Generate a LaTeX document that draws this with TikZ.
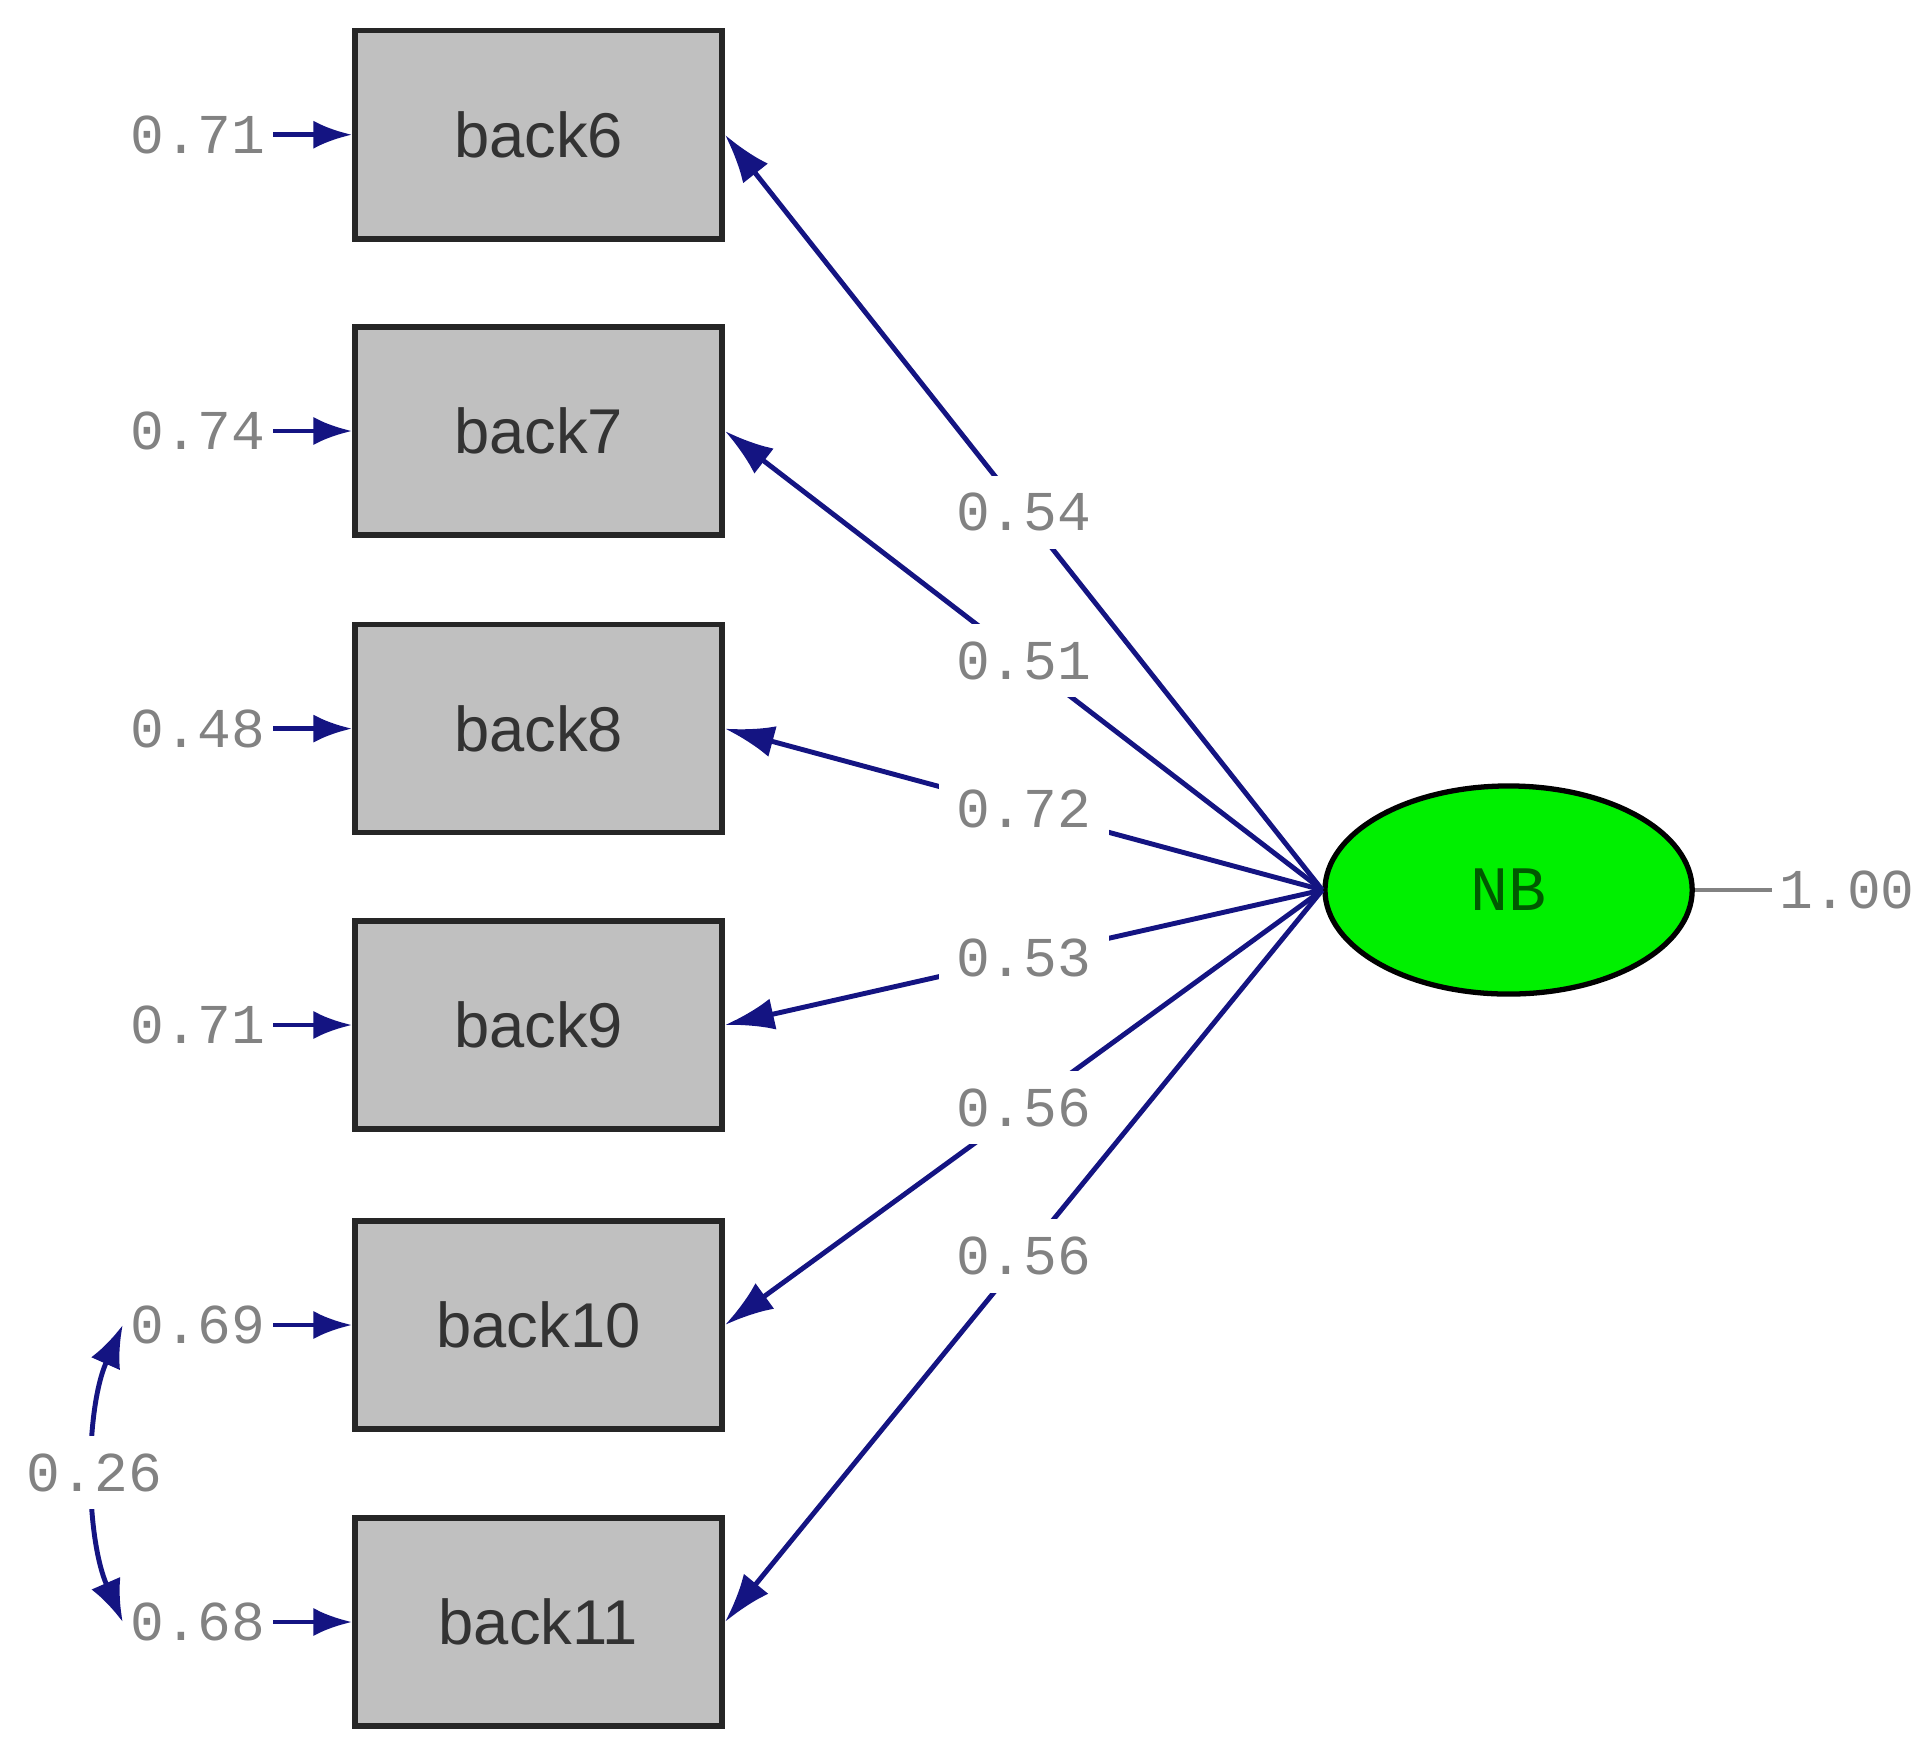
\documentclass[tikz,border=0pt]{standalone}
\usepackage{fontspec}
\setmainfont{Liberation Sans}
\newfontfamily\monofont{Liberation Mono}
\usetikzlibrary{shapes.geometric,arrows.meta}
\definecolor{pathblue}{RGB}{20,20,130}
\definecolor{boxgray}{RGB}{192,192,192}
\definecolor{nbgreen}{RGB}{0,240,0}
\definecolor{lblgray}{RGB}{130,130,130}

\begin{document}
\begin{tikzpicture}[x=0.01cm,y=-0.01cm,
var/.style={draw=black!85,line width=1.6pt,fill=boxgray,minimum width=3.67cm,minimum height=2.08cm,font=\fontsize{18}{20}\selectfont,text=black!80},
lat/.style={ellipse,draw=black,line width=1.5pt,fill=nbgreen,minimum width=3.67cm,minimum height=2.08cm,inner sep=0pt,font=\monofont\fontsize{18}{20}\selectfont,text=green!35!black},
errlbl/.style={font=\monofont\fontsize{16}{18}\selectfont,text=lblgray,inner sep=2pt},
coef/.style={font=\monofont\fontsize{16}{18}\selectfont,text=lblgray,fill=white,inner sep=5pt},
load/.style={pathblue,line width=1.4pt,-{Latex[length=14pt,width=9pt]}},
err/.style={pathblue,line width=1.4pt,-{Latex[length=11pt,width=8pt]}},
cov/.style={pathblue,line width=1.4pt,{Latex[length=12pt,width=9pt]}-{Latex[length=12pt,width=9pt]}}]

\useasboundingbox (0,0) rectangle (1920,1747);

\foreach \n/\y/\e in {6/134.7/0.71,7/431/0.74,8/728.6/0.48,9/1025/0.71,10/1325/0.69,11/1622/0.68} {
  \node[var] (back\n) at (538.5,\y) {back\n};
  \node[errlbl] (e\n) at (198,\y) {\e};
  \draw[err] (e\n) -- (back\n);
}

\node[lat] (NB) at (1508.6,890) {NB};
\node[errlbl] (nbvar) at (1847,890) {1.00};
\draw[lblgray,line width=1pt] (NB) -- (nbvar);

\foreach \n/\c in {6/0.54,7/0.51,8/0.72,9/0.53,10/0.56,11/0.56}
  \draw[load] (NB.west) -- node[coef] {\c} (back\n.east);

\draw[cov] (e10.west) .. controls (85,1410) and (85,1535) .. node[coef,fill=white] {0.26} (e11.west);
\end{tikzpicture}
\end{document}
